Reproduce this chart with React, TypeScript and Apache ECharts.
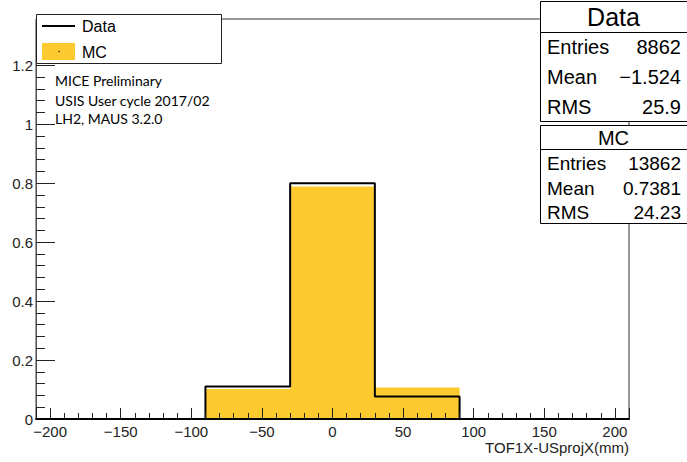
import React, { useEffect, useRef } from "react";
import * as echarts from "echarts";

// ---- data ----
const binEdges = [-90, -30, 30, 90];
const dataValues = [0.1105, 0.8, 0.0767];
const mcValues = [0.1017, 0.7886, 0.107];
const xRange = [-210, 210];
const yMax = 1.357;
const xTitle = "TOF1X-USprojX(mm)";
const legendNames = ["Data", "MC"];
const statNames = ["Entries", "Mean", "RMS"];
const dataStats = ["8862", "\u22121.524", "25.9"];
const mcStats = ["13862", "0.7381", "24.23"];
const annotations = ["MICE Preliminary", "USIS User cycle 2017/02", "LH2, MAUS 3.2.0"];

const MC_COLOR = "#FDCA2F";
const SANS = "'Liberation Sans', Arial, Helvetica, sans-serif";

function outline(edges: number[], vals: number[], pad: boolean): number[][] {
  const pts: number[][] = [];
  if (pad) pts.push([xRange[0], 0]);
  pts.push([edges[0], 0]);
  vals.forEach((v, i) => {
    pts.push([edges[i], v]);
    pts.push([edges[i + 1], v]);
  });
  pts.push([edges[edges.length - 1], 0]);
  if (pad) pts.push([xRange[1], 0]);
  return pts;
}

function fmtX(v: number): string {
  if (Math.abs(v % 50) > 1e-6) return "";
  return v < 0 ? "\u2212" + Math.abs(v) : String(v);
}
function fmtY(v: number): string {
  const k = v / 0.2;
  if (Math.abs(k - Math.round(k)) > 1e-6) return "";
  return String(Number(v.toFixed(1)));
}

export default function App() {
  const ref = useRef<HTMLDivElement>(null);
  useEffect(() => {
    document.body.style.margin = "0";
    const chart = echarts.init(ref.current!, null, { renderer: "svg" });

    const g: any[] = [];
    // legend box
    g.push({ type: "rect", z: 100, shape: { x: 36.5, y: 14.5, width: 185, height: 49 }, style: { fill: "#fff", stroke: "#222", lineWidth: 1 } });
    g.push({ type: "line", z: 101, shape: { x1: 42, y1: 26, x2: 75, y2: 26 }, style: { stroke: "#000", lineWidth: 2 } });
    g.push({ type: "text", z: 101, x: 82, y: 26, style: { text: legendNames[0], font: `16px ${SANS}`, fill: "#000", verticalAlign: "middle" } });
    g.push({ type: "rect", z: 101, shape: { x: 42, y: 43, width: 33, height: 17 }, style: { fill: MC_COLOR } });
    g.push({ type: "circle", z: 102, shape: { cx: 59, cy: 51.5, r: 0.6 }, style: { fill: "#000" } });
    g.push({ type: "text", z: 101, x: 82, y: 52, style: { text: legendNames[1], font: `16px ${SANS}`, fill: "#000", verticalAlign: "middle" } });
    // annotations
    annotations.forEach((t, i) => {
      g.push({ type: "text", z: 101, x: 55, y: [80, 100, 118][i], style: { text: t, font: "14px Lato, 'Open Sans', sans-serif", fill: "#000", verticalAlign: "middle" } });
    });
    // stat box Data
    g.push({ type: "rect", z: 100, shape: { x: 540.5, y: 1.5, width: 160, height: 120 }, style: { fill: "#fff", stroke: "#000", lineWidth: 1 } });
    g.push({ type: "line", z: 101, shape: { x1: 540, y1: 32.5, x2: 700, y2: 32.5 }, style: { stroke: "#000", lineWidth: 1 } });
    g.push({ type: "text", z: 101, x: 613.5, y: 17, style: { text: legendNames[0], font: `25px ${SANS}`, fill: "#000", align: "center", verticalAlign: "middle" } });
    statNames.forEach((n, i) => {
      const y = [47, 77, 107][i];
      g.push({ type: "text", z: 101, x: 547, y, style: { text: n, font: `20px ${SANS}`, fill: "#000", verticalAlign: "middle" } });
      g.push({ type: "text", z: 101, x: 681, y, style: { text: dataStats[i], font: `20px ${SANS}`, fill: "#000", align: "right", verticalAlign: "middle" } });
    });
    // stat box MC
    g.push({ type: "rect", z: 100, shape: { x: 540.5, y: 125.5, width: 160, height: 98 }, style: { fill: "#fff", stroke: "#000", lineWidth: 1 } });
    g.push({ type: "line", z: 101, shape: { x1: 540, y1: 149.5, x2: 700, y2: 149.5 }, style: { stroke: "#000", lineWidth: 1 } });
    g.push({ type: "text", z: 101, x: 613.5, y: 137.5, style: { text: legendNames[1], font: `20px ${SANS}`, fill: "#000", align: "center", verticalAlign: "middle" } });
    statNames.forEach((n, i) => {
      const y = [163, 188, 212][i];
      g.push({ type: "text", z: 101, x: 547, y, style: { text: n, font: `19px ${SANS}`, fill: "#000", verticalAlign: "middle" } });
      g.push({ type: "text", z: 101, x: 681, y, style: { text: mcStats[i], font: `19px ${SANS}`, fill: "#000", align: "right", verticalAlign: "middle" } });
    });

    chart.setOption({
      animation: false,
      backgroundColor: "#fff",
      grid: { left: 36, right: 58, top: 19, bottom: 43, show: true, borderColor: "#333", borderWidth: 1, backgroundColor: "transparent", containLabel: false, outerBoundsMode: "none" },
      xAxis: [
        {
          type: "value", min: xRange[0], max: xRange[1], interval: 10, position: "bottom", z: 5,
          axisLine: { show: false, onZero: false },
          axisTick: { show: true, inside: true, length: 6, lineStyle: { color: "#222", width: 1 } },
          axisLabel: { show: false },
          splitLine: { show: false },
        },
        {
          type: "value", min: xRange[0], max: xRange[1], minInterval: 50, maxInterval: 50, splitNumber: 8,
          position: "bottom", z: 6,
          axisLine: { show: true, onZero: false, lineStyle: { color: "#000", width: 2 } },
          axisTick: { show: true, inside: true, length: 11, lineStyle: { color: "#222", width: 1 } },
          axisLabel: { formatter: fmtX, fontSize: 15, color: "#222", margin: 5, fontFamily: SANS },
          splitLine: { show: false },
          name: xTitle, nameLocation: "end", nameGap: 0,
          nameTextStyle: { fontSize: 15, color: "#222", fontFamily: SANS, align: "right", verticalAlign: "top", padding: [21, 0, 0, 0] },
        },
      ],
      yAxis: [
        {
          type: "value", min: 0, max: yMax, interval: 0.2, position: "left", z: 5,
          axisLine: { show: true, onZero: false, lineStyle: { color: "#555", width: 1 } },
          axisTick: { show: true, inside: true, length: 19, lineStyle: { color: "#222", width: 1 } },
          minorTick: { show: true, splitNumber: 5, length: 9, lineStyle: { color: "#222", width: 1 } },
          axisLabel: { formatter: fmtY, fontSize: 15, color: "#222", margin: 3, fontFamily: SANS },
          splitLine: { show: false },
          minorSplitLine: { show: false },
        },
      ],
      series: [
        {
          name: "MC", type: "line", xAxisIndex: 1, yAxisIndex: 0, z: 2,
          data: outline(binEdges, mcValues, false),
          showSymbol: false, symbol: "none",
          lineStyle: { width: 0, opacity: 0 },
          areaStyle: { color: MC_COLOR, opacity: 1, origin: 0 },
        },
        {
          name: "Data", type: "line", xAxisIndex: 1, yAxisIndex: 0, z: 3,
          data: outline(binEdges, dataValues, true),
          showSymbol: false, symbol: "none",
          lineStyle: { color: "#000", width: 2 },
        },
      ],
      graphic: g,
    });
    return () => chart.dispose();
  }, []);
  return <div ref={ref} style={{ position: "fixed", left: 0, top: 0, width: 687, height: 462 }} />;
}
